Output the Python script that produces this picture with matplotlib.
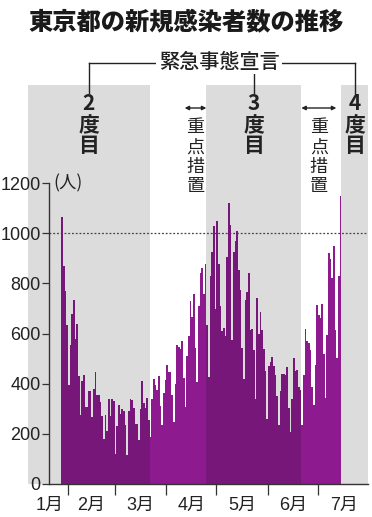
import numpy as np
import matplotlib.pyplot as plt
from matplotlib.transforms import blended_transform_factory

plt.rcParams['font.family'] = ['Noto Sans CJK JP', 'DejaVu Sans']
NUM_FONT = ['Liberation Sans', 'Noto Sans CJK JP']

# daily new cases in Tokyo, starting Jan 28
jan = [1064, 868, 769, 633]
feb = [393, 556, 676, 734, 577, 639, 429, 276, 412, 434, 307, 307, 369, 371,
       266, 378, 445, 353, 353, 327, 272, 178, 275, 213, 340, 270, 337, 329]
mar = [121, 232, 316, 279, 301, 293, 237, 116, 290, 340, 335, 304, 239, 239,
       175, 300, 409, 323, 303, 342, 256, 187, 337, 420, 394, 376, 430, 313,
       234, 364, 414]
apr = [475, 446, 446, 355, 249, 399, 555, 545, 537, 570, 421, 306, 510, 591,
       729, 667, 759, 543, 405, 711, 843, 861, 759, 876, 635, 425, 828, 925,
       1027, 698]
may = [1050, 879, 708, 609, 621, 591, 907, 1121, 1032, 573, 925, 969, 1010,
       854, 772, 542, 419, 732, 766, 843, 614, 620, 535, 340, 743, 597, 684,
       614, 539, 449, 260]
jun = [471, 487, 508, 472, 436, 351, 235, 369, 440, 439, 435, 467, 304, 209,
       337, 501, 452, 453, 388, 376, 236, 435, 619, 570, 562, 534, 386, 317,
       476, 714]
jul = [673, 660, 716, 518, 342, 593, 920, 896, 822, 950, 614, 502, 830, 1149]

first_day = 27   # Jan 28, counting Jan 1 as day 0

# day numbers (Jan 1 = 0)
month_starts = [31, 59, 90, 120, 151, 181]
month_label_pos = [20, 45, 74.5, 105, 135.5, 166, 196.5]
month_labels = ['1月', '2月', '3月', '4月', '5月', '6月', '7月']
emergency = [(7, 80), (114, 171), (195, 211)]
emergency_names = ['2', '3', '4']
priority = [(101, 114), (171, 192)]
yticks = [0, 200, 400, 600, 800, 1000, 1200]

cases = np.array(jan + feb + mar + apr + may + jun + jul)
days = first_day + np.arange(len(cases))

W, H = 372, 517
fig = plt.figure(figsize=(W / 100, H / 100), dpi=100)
ax = fig.add_axes([28 / W, 33 / H, 340 / W, 399 / H])
ax.set_xlim(7, 211)
ax.set_ylim(0, 1591)
spine_x = 19.5

for s, e in emergency:
    ax.axvspan(s, e, color='#dcdcdc', lw=0, zorder=0)

in_em = [any(s <= d < e for s, e in emergency) for d in days]
colors = ['#761779' if f else '#8d1b8f' for f in in_em]
ax.bar(days, cases, width=1.0, align='edge', color=colors, lw=0, zorder=2)

ax.hlines(1000, spine_x, 211, colors='#444444', linestyles=(0, (1.5, 1.5)),
          lw=0.9, zorder=3)

for side in ['top', 'right']:
    ax.spines[side].set_visible(False)
ax.spines['left'].set_position(('data', spine_x))
ax.spines['left'].set_bounds(0, 1200)
ax.spines['bottom'].set_bounds(spine_x, 211)
for side in ['left', 'bottom']:
    ax.spines[side].set_color('#333333')
    ax.spines[side].set_linewidth(1)
    ax.spines[side].set_zorder(4)

ax.set_yticks(yticks)
ax.set_yticklabels([str(v) for v in yticks])
ax.tick_params(axis='y', direction='out', length=5, width=0.9, pad=1,
               labelsize=13, color='#333333', labelcolor='#222222')
for lab in ax.get_yticklabels():
    lab.set_family(NUM_FONT)

ax.set_xticks(month_starts)
ax.set_xticklabels([])
ax.set_xticks(month_label_pos, minor=True)
ax.set_xticklabels(month_labels, minor=True)
ax.tick_params(axis='x', which='major', direction='out', length=8, width=0.9,
               color='#333333')
ax.tick_params(axis='x', which='minor', length=0, pad=9, labelsize=13,
               labelcolor='#222222')
for lab in ax.get_xticklabels(minor=True):
    lab.set_family(NUM_FONT)

ax.text(spine_x + 2.5, 1200, '(人)', ha='left', va='center', fontsize=12.5,
        color='#222222')

# annotations above the plot
tr = blended_transform_factory(ax.transData, fig.transFigure)


def fy(py):
    return 1 - py / H


centers = [(s + e) / 2 for s, e in emergency]
ax.plot([centers[0], centers[-1]], [fy(63), fy(63)], transform=tr,
        color='#222222', lw=1, clip_on=False)
for c in centers:
    ax.plot([c, c], [fy(63), fy(93)], transform=tr, color='#222222', lw=1,
            clip_on=False)
fig.text(219 / W, fy(62), '緊急事態宣言', ha='center', va='center',
         fontsize=14.5, fontweight='medium', color='#222222',
         bbox=dict(fc='white', ec='none', pad=2))

for c, n in zip(centers, emergency_names):
    for ch, py in zip([n, '度', '目'], [104, 126, 146]):
        ax.text(c, fy(py), ch, transform=tr, ha='center', va='center',
                fontsize=15, fontweight='bold', color='#222222')

for s, e in priority:
    ax.annotate('', xy=(e, fy(108)), xytext=(s, fy(108)), xycoords=tr,
                textcoords=tr,
                arrowprops=dict(arrowstyle='<|-|>', mutation_scale=6, lw=1,
                                color='#222222', shrinkA=0, shrinkB=0))
    for ch, py in zip('重点措置', [127, 148, 167, 186]):
        ax.text((s + e) / 2, fy(py), ch, transform=tr, ha='center',
                va='center', fontsize=13, color='#222222')

fig.text(28 / W, fy(22), '東京都の新規感染者数の推移', ha='left', va='center',
         fontsize=17.5, fontweight='black', color='#1a1a1a')

fig.savefig('out.png', dpi=100)
